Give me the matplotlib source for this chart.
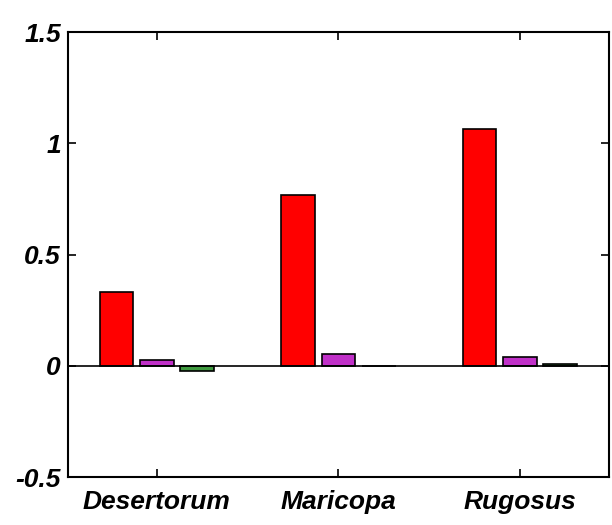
import numpy as np
import matplotlib.pyplot as plt

# Grouped bars per species
species = ["Desertorum", "Maricopa", "Rugosus"]
series_a = [0.33, 0.77, 1.063]    # red
series_b = [0.028, 0.054, 0.040]  # magenta
series_c = [-0.022, 0.0, 0.008]   # green

colors = ["#ff0000", "#c030c8", "#3f9a3f"]

fig = plt.figure(figsize=(6.12, 5.25), dpi=100)
ax = fig.add_axes([0.111, 0.091, 0.884, 0.848])

x = np.arange(1, len(species) + 1)
width = 0.185
step = 0.222
for i, (vals, c) in enumerate(zip([series_a, series_b, series_c], colors)):
    ax.bar(x + (i - 1) * step, vals, width, color=c, edgecolor="black", linewidth=1.2, zorder=2)

ax.axhline(0, color="black", linewidth=1.2, zorder=3)

ax.set_xlim(0.51, 3.49)
ax.set_ylim(-0.5, 1.5)
ax.set_yticks([-0.5, 0, 0.5, 1, 1.5])
ax.set_yticklabels(["-0.5", "0", "0.5", "1", "1.5"])
ax.set_xticks(x)
ax.set_xticklabels(species)

for lab in ax.get_xticklabels() + ax.get_yticklabels():
    lab.set_fontfamily("Liberation Sans")
    lab.set_fontweight("bold")
    lab.set_fontstyle("italic")
    lab.set_fontsize(19)

ax.tick_params(direction="in", length=6, width=1.2, top=True, right=True, pad=5)
ax.tick_params(axis="x", pad=9)
for s in ax.spines.values():
    s.set_linewidth(1.5)

fig.savefig("out.png", dpi=100)
